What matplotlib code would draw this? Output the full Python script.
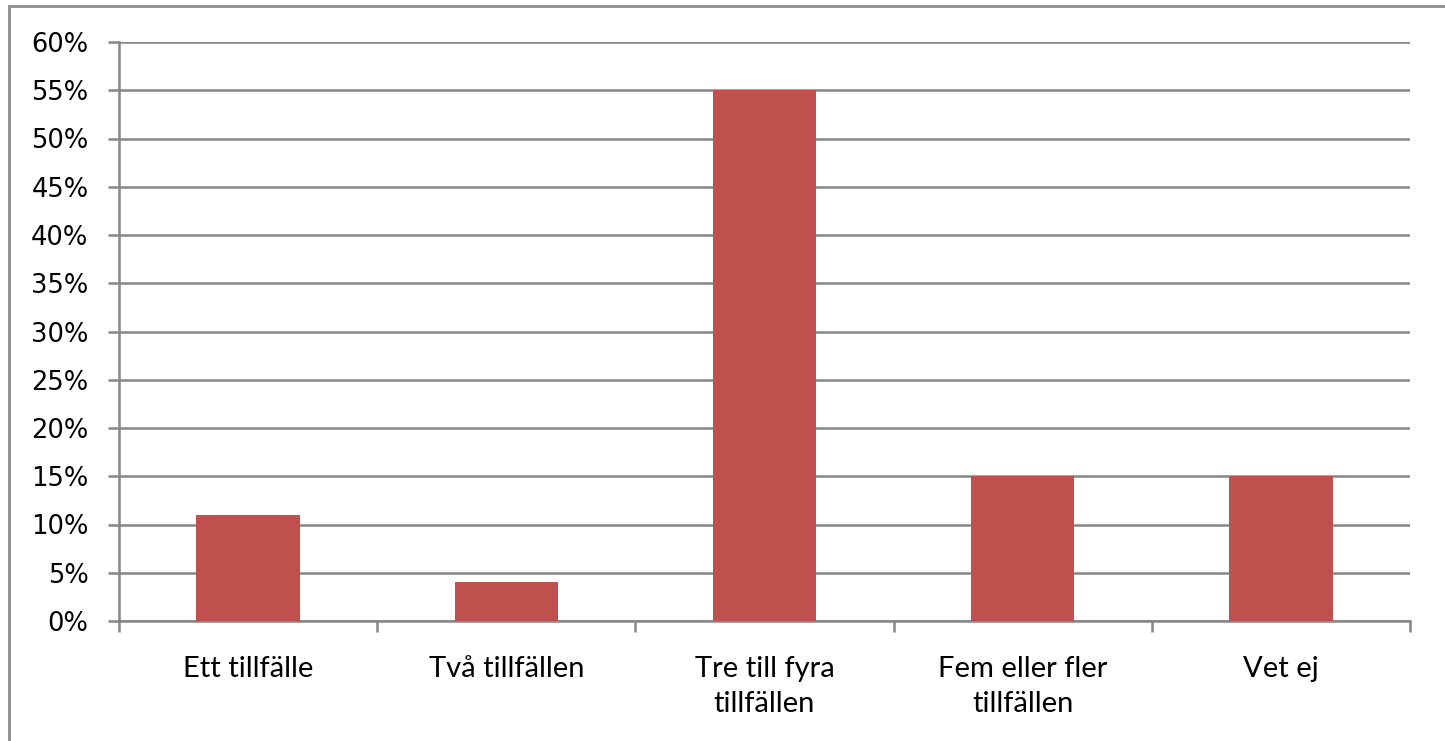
import matplotlib.pyplot as plt
from matplotlib.patches import Rectangle
from matplotlib.ticker import FixedLocator, PercentFormatter

categories = ["Ett tillfälle", "Två tillfällen", "Tre till fyra\ntillfällen",
              "Fem eller fler\ntillfällen", "Vet ej"]
values = [11, 4, 55, 15, 15]
yticks = list(range(0, 61, 5))

bar_color = "#C0504D"
grid_color = "#868686"

fig = plt.figure(figsize=(14.45, 7.41), dpi=100)
ax = fig.add_axes([119 / 1445, 120 / 741, (1410 - 119) / 1445, (621 - 42) / 741])

x = list(range(len(categories)))
ax.bar(x, values, width=0.4, color=bar_color, zorder=3)

ax.set_xlim(-0.5, len(categories) - 0.5)
ax.set_ylim(0, 60)
ax.set_yticks(yticks)
ax.yaxis.set_major_formatter(PercentFormatter(decimals=0))
ax.grid(axis="y", color=grid_color, linewidth=1.8, zorder=0)

for side in ["top", "right"]:
    ax.spines[side].set_visible(False)
for side in ["left", "bottom"]:
    ax.spines[side].set_color(grid_color)
    ax.spines[side].set_linewidth(1.8)

ax.tick_params(axis="y", length=8, width=1.8, color=grid_color, pad=14,
               labelsize=18.5, labelcolor="black")

# category labels at centres, tick marks at the boundaries
ax.set_xticks(x)
ax.set_xticklabels(categories, fontfamily="Lato", fontsize=21, linespacing=1.45)
ax.tick_params(axis="x", which="major", length=0, pad=25)
ax.xaxis.set_minor_locator(FixedLocator([i - 0.5 for i in range(len(categories) + 1)]))
ax.tick_params(axis="x", which="minor", length=8, width=1.8, color=grid_color)

# outer chart border (cut off at right and bottom as in the reference)
fig.patches.append(Rectangle((9 / 1445, -0.05), 1.2, (741 - 6) / 741 + 0.05,
                             transform=fig.transFigure, fill=False,
                             edgecolor="#8c8c8c", linewidth=2))

fig.savefig("out.png", dpi=100)
